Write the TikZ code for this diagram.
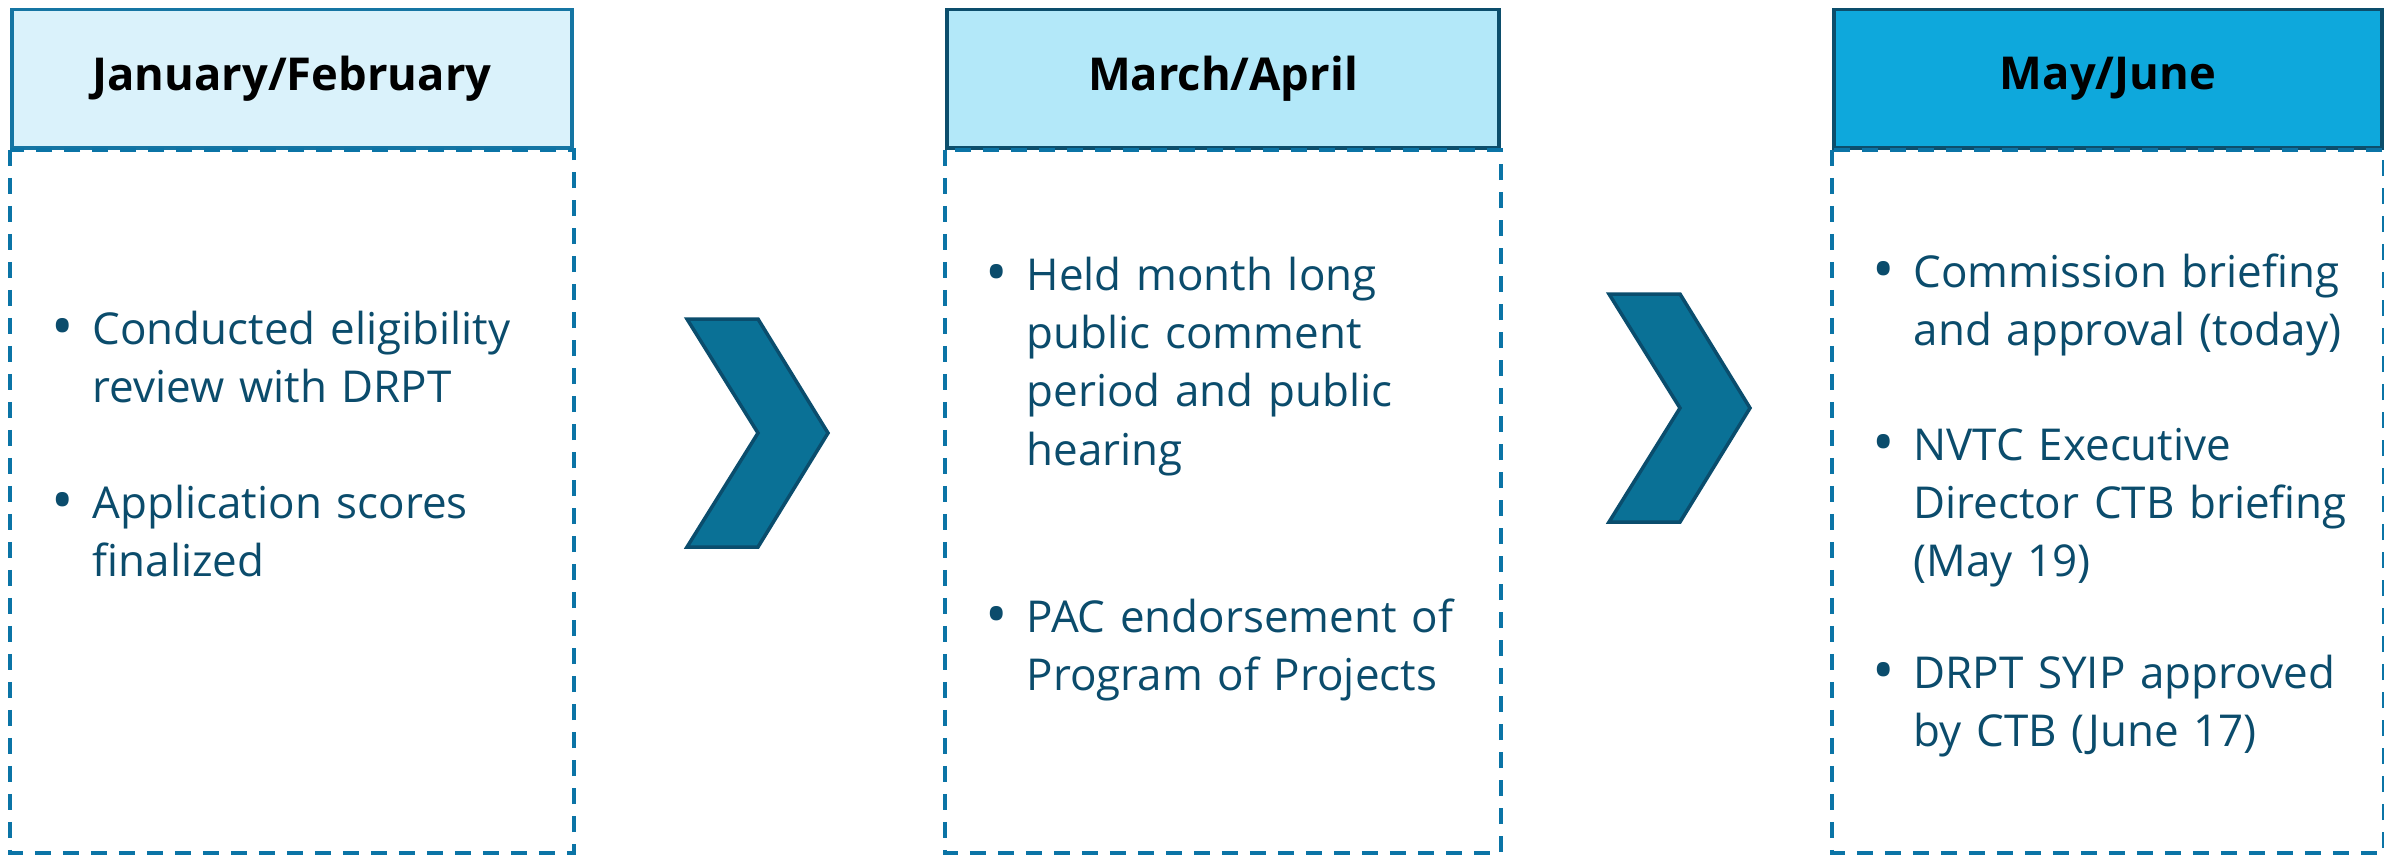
\documentclass[tikz,border=0pt]{standalone}
\usepackage{fontspec}
\setmainfont{Open Sans}
\usepackage{xcolor}
\usetikzlibrary{positioning}

\definecolor{janfill}{HTML}{DAF2FB}
\definecolor{marfill}{HTML}{B3E8F9}
\definecolor{mayfill}{HTML}{0EA8DC}
\definecolor{paleedge}{HTML}{1575A3}
\definecolor{darkedge}{HTML}{0C4E6C}
\definecolor{dashblue}{HTML}{0B74A6}
\definecolor{chevfill}{HTML}{0A7196}
\definecolor{chevedge}{HTML}{0A4D6D}
\definecolor{ink}{HTML}{0B4C6C}

% bullet hung to the left of the first line
\newcommand{\itembul}{\leavevmode\llap{\raisebox{-1.1pt}{\fontsize{17}{17}\selectfont\textbullet}\hspace{0.19cm}}}

\begin{document}
\begin{tikzpicture}[x=1cm, y=1cm,
    header/.style={draw=darkedge, line width=1.1pt, anchor=north west, minimum height=1.384cm,
        inner sep=0pt, text=black, font=\bfseries\fontsize{12.9}{15}\selectfont},
    column/.style={draw=dashblue, line width=1pt, dash pattern=on 0.16cm off 0.12cm},
    item/.style={anchor=base west, inner sep=0pt, text width=6cm, align=left, text=ink,
        font=\fontsize{12.5}{16.6}\selectfont},
    chevron/.style={fill=chevfill, draw=chevedge, line width=1pt, line join=miter}]
    \useasboundingbox (0,0) rectangle (23.84,-8.56);
    \coordinate (floor) at (0,-8.53);
    % Headers
    \node[header, draw=paleedge, fill=janfill, minimum width=5.60cm] (hdJan) at (0.10,-0.076) {January/February};
    \node[header, fill=marfill, minimum width=5.52cm] (hdMar) at (9.45,-0.076) {March/April};
    \node[header, fill=mayfill, minimum width=5.48cm] (hdMay) at (18.32,-0.076) {May/June};
    % Dashed columns under the headers
    \foreach \h in {hdJan,hdMar,hdMay}
        \draw[column] (\h.south west) rectangle (\h.south east |- floor);
    % Bullet items
    \node[item] (janA) at (0.92,-3.44) {\itembul Conducted eligibility\\review with DRPT};
    \node[item] (janB) at (0.92,-5.18) {\itembul Application scores\\finalized};
    \node[item] (marA) at (10.26,-2.90) {\itembul Held month long\\public comment\\period and public\\hearing};
    \node[item] (marB) at (10.26,-6.32) {\itembul PAC endorsement of\\Program of Projects};
    \node[item] (mayA) at (19.13,-2.87) {\itembul Commission briefing\\and approval (today)};
    \node[item] (mayB) at (19.13,-4.60) {\itembul NVTC Executive\\Director CTB briefing\\(May 19)};
    \node[item] (mayC) at (19.13,-6.88) {\itembul DRPT SYIP approved\\by CTB (June 17)};
    % Chevrons between the columns
    \foreach \cx/\cy in {6.87/-4.33, 16.09/-4.08}
        \draw[chevron] (\cx,\cy+1.14) -- ++(0.71,0) -- ++(0.70,-1.14) -- ++(-0.70,-1.14)
            -- ++(-0.71,0) -- ++(0.71,1.14) -- cycle;
\end{tikzpicture}
\end{document}
